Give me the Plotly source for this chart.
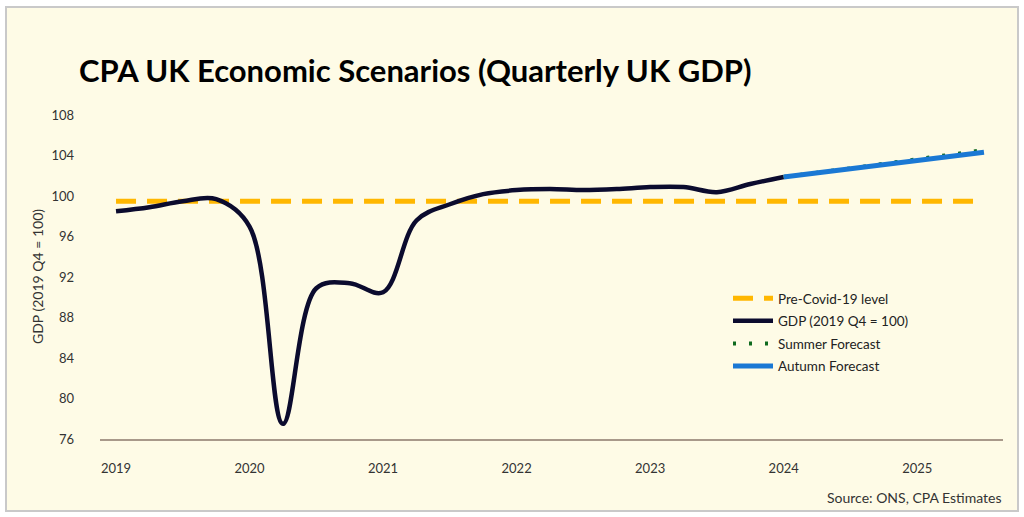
import plotly.graph_objects as go

# ---- data ----
quarters = list(range(27))  # 2019 Q1 ... 2025 Q3
year_ticks = [0, 4, 8, 12, 16, 20, 24]
year_labels = ["2019", "2020", "2021", "2022", "2023", "2024", "2025"]
y_ticks = [76, 80, 84, 88, 92, 96, 100, 104, 108]

gdp = [98.5, 98.9, 99.5, 99.7, 97.0, 77.5, 90.9, 91.4, 90.5, 97.6, 99.2, 100.2,
       100.6, 100.7, 100.6, 100.7, 100.9, 100.9, 100.4, 101.2, 101.9]
pre_covid = [99.5] * 27
summer_q = list(range(20, 27))
summer = [101.9, 102.3, 102.75, 103.2, 103.65, 104.1, 104.55]
autumn_q = list(range(20, 27))
autumn = [101.9, 102.3, 102.7, 103.1, 103.5, 103.9, 104.35]

# ---- layout helpers (pixel -> paper) ----
W, H = 1024, 517
L, R, T, B = 100, 21, 95, 78
pw, ph = W - L - R, H - T - B
def px(x):
    return (x - L) / pw
def py(y):
    return (H - B - y) / ph

font_family = "Lato, 'Open Sans', sans-serif"

fig = go.Figure()
fig.add_trace(go.Scatter(x=quarters, y=pre_covid, mode="lines", name="Pre-Covid-19 level",
                         legendgroup="a",
                         line=dict(color="#FFB700", width=5, dash="20px,11px")))
fig.add_trace(go.Scatter(x=quarters[:len(gdp)], y=gdp, mode="lines", name="GDP (2019 Q4 = 100)",
                         legendgroup="b",
                         line=dict(color="#0B0B2E", width=4.5, shape="spline", smoothing=1.0)))
fig.add_trace(go.Scatter(x=summer_q, y=summer, mode="lines", name="Summer Forecast",
                         legendgroup="c",
                         line=dict(color="#0E6A1E", width=4, dash="3px,13px")))
fig.add_trace(go.Scatter(x=autumn_q, y=autumn, mode="lines", name="Autumn Forecast",
                         legendgroup="d",
                         line=dict(color="#1A78D4", width=5)))

fig.update_layout(
    width=W, height=H,
    margin=dict(l=L, r=R, t=T, b=B),
    paper_bgcolor="white",
    plot_bgcolor="rgba(0,0,0,0)",
    font=dict(family=font_family, size=12, color="#333333"),
    showlegend=True,
    legend=dict(x=px(728), y=py(283), xanchor="left", yanchor="top",
                bgcolor="rgba(0,0,0,0)", font=dict(size=13.5, color="#222222"),
                itemwidth=40, traceorder="grouped", tracegroupgap=2),
    xaxis=dict(range=[-0.48, 26.57], tickmode="array", tickvals=year_ticks, ticktext=year_labels,
               showgrid=False, zeroline=False, showline=True, linecolor="#A8998A", linewidth=1.5,
               ticks="", ticklabelstandoff=17, tickfont=dict(size=13, color="#333333"), fixedrange=True),
    yaxis=dict(range=[76, 110], tickmode="array", tickvals=y_ticks,
               showgrid=False, zeroline=False, showline=False,
               ticks="", ticklabelstandoff=25, tickfont=dict(size=13, color="#333333"), fixedrange=True),
    shapes=[dict(type="rect", xref="paper", yref="paper", x0=px(6), x1=px(1018), y0=py(511), y1=py(7),
                 fillcolor="#FEFBE6", line=dict(color="#C9C9C9", width=2), layer="below")],
    annotations=[
        dict(text="<b>CPA UK Economic Scenarios (Quarterly UK GDP)</b>", xref="paper", yref="paper",
             x=px(77), y=py(70), xanchor="left", yanchor="middle", showarrow=False,
             font=dict(size=31, color="#000000", family=font_family)),
        dict(text="GDP (2019 Q4 = 100)", xref="paper", yref="paper", x=px(37), y=py(277),
             xanchor="center", yanchor="middle", textangle=-90, showarrow=False,
             font=dict(size=14, color="#333333")),
        dict(text="Source: ONS, CPA Estimates", xref="paper", yref="paper", x=px(1004), y=py(497),
             xanchor="right", yanchor="middle", showarrow=False,
             font=dict(size=14, color="#333333")),
    ],
)

fig.write_html("out.html", config={"displayModeBar": False},
               post_script="document.body.style.margin='0';")
